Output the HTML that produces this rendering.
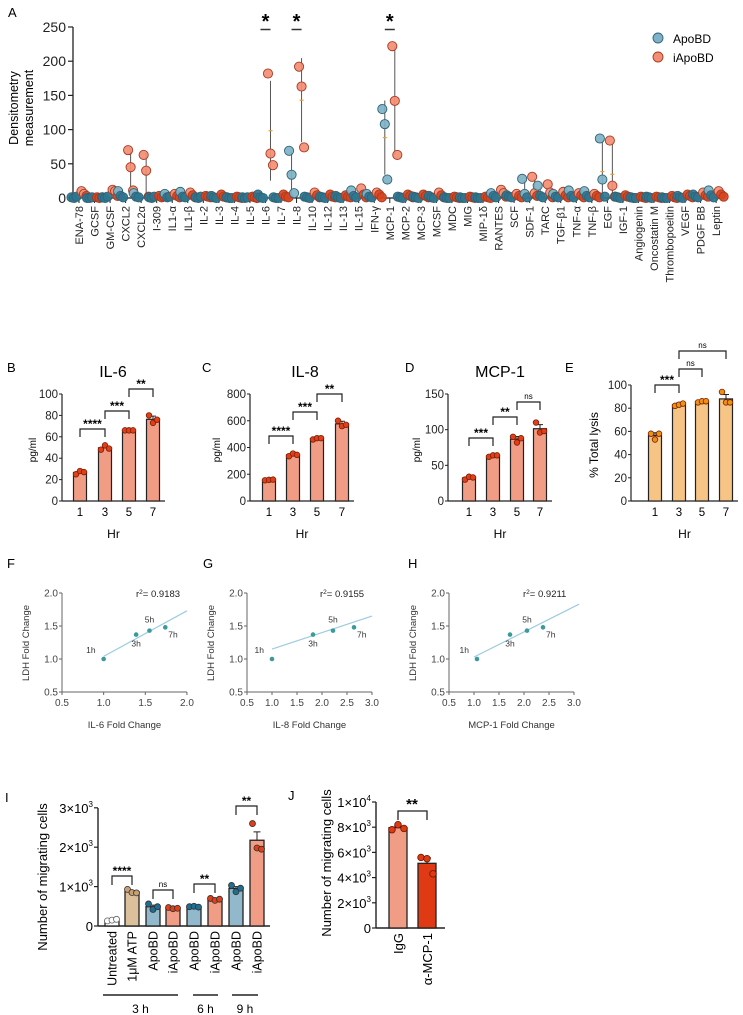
<!DOCTYPE html>
<html><head><meta charset="utf-8"><style>
body{margin:0;background:#fff}
svg{display:block;font-family:"Liberation Sans",sans-serif}
</style></head><body>
<svg id="fig" width="743" height="1015" viewBox="0 0 743 1015"></svg>
<script>
// ---------- Panel A data ----------
const aCats=["ENA-78","GCSF","GM-CSF","CXCL2","CXCL2α","I-309","IL1-α","IL1-β","IL-2","IL-3","IL-4","IL-5","IL-6","IL-7","IL-8","IL-10","IL-12","IL-13","IL-15","IFN-γ","MCP-1","MCP-2","MCP-3","MCSF","MDC","MIG","MIP-1δ","RANTES","SCF","SDF-1","TARC","TGF-β1","TNF-α","TNF-β","EGF","IGF-1","Angiogenin","Oncostatin M","Thrombopoeitin","VEGF","PDGF BB","Leptin"];
const aApo=[[1,0,2],[0,0,1],[1,0,2],[10,3,1],[7,2,1],[1,0,2],[6,1,2],[9,2,1],[1,0,2],[3,1,0],[1,0,0],[1,0,1],[5,1,0],[1,0,0],[69,34,7],[2,1,0],[2,1,0],[3,1,0],[11,3,1],[6,2,1],[130,108,27],[2,1,0],[2,1,0],[3,1,0],[1,0,0],[1,0,0],[1,0,0],[7,3,1],[4,2,1],[28,6,1],[18,3,1],[6,2,1],[11,3,1],[10,3,1],[87,27,2],[2,1,0],[1,0,0],[2,1,0],[1,0,0],[3,1,0],[5,2,1],[11,4,1]];
const aIapo=[[10,6,3],[1,0,1],[12,10,3],[70,45,11],[63,40,2],[3,1,2],[6,3,1],[8,4,1],[3,2,1],[5,2,1],[2,1,0],[2,1,0],[182,65,48],[5,2,1],[192,163,74],[8,4,1],[5,2,1],[4,2,1],[14,5,1],[8,5,1],[222,142,63],[5,3,1],[5,3,1],[8,4,1],[2,1,0],[2,1,0],[2,1,0],[12,7,2],[6,3,1],[31,7,3],[20,8,1],[9,4,1],[7,4,1],[6,3,1],[84,18,2],[4,2,1],[2,1,0],[2,1,0],[3,1,0],[5,3,1],[8,4,2],[10,5,2]];
const aSig=["IL-6","IL-8","MCP-1"];
const aTicks=[0,50,100,150,200,250];
// ---------- Panels B-E ----------
const hrCats=["1","3","5","7"];
const bPts=[[25,28,27],[48,52,49],[66,66,66],[80,73,76]];
const cPts=[[155,158,160],[335,355,345],[460,470,470],[600,560,570]];
const dPts=[[30,34,33],[62,64,64],[90,82,88],[110,96,98]];
const ePts=[[58,53,58],[82,83,84],[85,86,86],[94,85,85]];
const bTicks=[0,20,40,60,80,100];
const cTicks=[0,200,400,600,800];
const dTicks=[0,50,100,150];
const eTicks=[0,20,40,60,80,100];
const bSig=[[0,1,"****"],[1,2,"***"],[2,3,"**"]];
const cSig=[[0,1,"****"],[1,2,"***"],[2,3,"**"]];
const dSig=[[0,1,"***"],[1,2,"**"],[2,3,"ns"]];
const eSig=[[0,1,"***"],[1,2,"ns"],[1,3,"ns"]];
// ---------- Panels F-H ----------
const fcLabels=["1h","3h","5h","7h"];
const ldh=[1.0,1.37,1.43,1.48];
const fIL6=[1.0,1.39,1.55,1.74];
const fIL8=[1.0,1.82,2.22,2.64];
const fMCP=[1.06,1.72,2.06,2.38];
const fR2=["0.9183","0.9155","0.9211"];
const fLineF=[[1.0,1.04],[2.0,1.73]];
const fLineG=[[1.0,1.15],[3.0,1.65]];
const fLineH=[[1.0,1.03],[3.1,1.83]];
// ---------- Panel I ----------
const iCats=["Untreated","1μM ATP","ApoBD","iApoBD","ApoBD","iApoBD","ApoBD","iApoBD"];
const iPts=[[130,150,170],[930,850,840],[560,420,490],[470,440,450],[490,500,480],[700,650,680],[1030,870,960],[2600,1980,1950]];
const iTypes=["w","t","b","r","b","r","b","r"];
const iTicks=[0,1,2,3];
const iSig=[[0,1,"****",876],[2,3,"ns",890],[4,5,"**",884],[6,7,"**",806]];
// ---------- Panel J ----------
const jCats=["IgG","α-MCP-1"];
const jPts=[[7800,8200,7900],[5600,5500,4300]];
const jTicks=[0,2,4,6,8,10];

const svg=document.getElementById('fig');
const NS="http://www.w3.org/2000/svg";
function mk(tag,attrs,parent){const e=document.createElementNS(NS,tag);for(const k in attrs)e.setAttribute(k,attrs[k]);(parent||svg).appendChild(e);return e;}
function txt(x,y,s,attrs,parent){const e=mk('text',Object.assign({x:x,y:y},attrs||{}),parent);e.textContent=s;return e;}
function mean(a){return a.reduce((p,c)=>p+c,0)/a.length;}
function sd(a){const m=mean(a);return Math.sqrt(a.reduce((p,c)=>p+(c-m)*(c-m),0)/(a.length-1));}
function sem(a){return sd(a)/Math.sqrt(a.length);}

// ================= Panel A =================
const gA=mk('g',{});


let t=txt(8,17,"A",{'font-size':13});

const xA=i=>79+i*15.54, yA=v=>198-v*0.684;
let l=mk('line',{x1:73,y1:27,x2:73,y2:198,stroke:'#222','stroke-width':1.3},gA);

l=mk('line',{x1:73,y1:198,x2:722,y2:198,stroke:'#222','stroke-width':1.3},gA);

aTicks.forEach(v=>{
  const k=mk('line',{x1:68,x2:73,y1:yA(v),y2:yA(v),stroke:'#222','stroke-width':1.2},gA);
  
  const s=txt(66,yA(v)+5,String(v),{'font-size':14,'text-anchor':'end',fill:'#222'},gA);
  
});
t=txt(0,0,"Densitometry",{'font-size':12.5,'text-anchor':'middle',transform:'translate(18,108) rotate(-90)'},gA);

t=txt(0,0,"measurement",{'font-size':12.5,'text-anchor':'middle',transform:'translate(33,108) rotate(-90)'},gA);

aCats.forEach((c,i)=>{
  const x=xA(i);
  const k=mk('line',{x1:x,x2:x,y1:198,y2:203,stroke:'#222','stroke-width':1},gA);
  
  const s=txt(0,0,c,{'font-size':11,'text-anchor':'end',fill:'#222',transform:`translate(${x+4},206) rotate(-90)`},gA);
  
  [[aApo[i],-5,'#7fb2c6','#2e6478'],[aIapo[i],5,'#f28e76','#a83a20']].forEach(([pts,off,fill,st])=>{
    const cx=x+off, m=mean(pts), s2=sd(pts);
    if(s2>8){
      const e=mk('line',{x1:cx,x2:cx,y1:yA(m+s2),y2:yA(Math.max(m-s2,0)),stroke:'#555','stroke-width':1},gA);
      
      const mm=mk('line',{x1:cx-2,x2:cx+2,y1:yA(m),y2:yA(m),stroke:'#f0a020','stroke-width':1.2},gA);
      
    }
    pts.forEach((v,j)=>{
      const jit=(j-1)*2.5;
      const dark=v<6;
      const p=mk('circle',{cx:cx+jit,cy:yA(v),r:4.6,fill:dark?(off<0?'#2f7690':'#d8441f'):fill,stroke:st,'stroke-width':0.9,'fill-opacity':0.92},gA);
      
      
    });
  });
  if(aSig.includes(c)){
    const s3=txt(x,28,"*",{'font-size':20,'font-weight':'bold','text-anchor':'middle'},gA);
    
    const d=mk('line',{x1:x-5,x2:x+5,y1:29.5,y2:29.5,stroke:'#333','stroke-width':1.5},gA);
    
  }
});
let lg=mk('circle',{cx:658,cy:38,r:5,fill:'#7fb2c6',stroke:'#2e6478','stroke-width':0.9});

t=txt(673,43,"ApoBD",{'font-size':12});

lg=mk('circle',{cx:658,cy:57,r:5,fill:'#f28e76',stroke:'#a83a20','stroke-width':0.9});

t=txt(673,62,"iApoBD",{'font-size':12});


// ================= Panels B-E =================
function barPanel(o){
  const g=mk('g',{});
  
  
  const y=v=>o.y0-(v/o.max)*(o.y0-o.yTop);
  let a=mk('line',{x1:o.ax,x2:o.ax,y1:o.yTop,y2:o.y0,stroke:'#222','stroke-width':1.2},g);
  
  a=mk('line',{x1:o.ax,x2:o.xs[3]+12,y1:o.y0,y2:o.y0,stroke:'#222','stroke-width':1.2},g);
  
  o.ticks.forEach(v=>{
    const k=mk('line',{x1:o.ax-3,x2:o.ax,y1:y(v),y2:y(v),stroke:'#222'},g);
    
    const s=txt(o.ax-4,y(v)+4,String(v),{'font-size':11.5,'text-anchor':'end',fill:'#222'},g);
    
  });
  o.pts.forEach((pts,i)=>{
    const x=o.xs[i], m=mean(pts), e=sem(pts);
    const b=mk('rect',{x:x-6.5,y:y(m),width:13,height:o.y0-y(m),fill:o.fill,stroke:'#222','stroke-width':1.2},g);
    
    const eb=mk('path',{d:`M${x} ${y(m)} V${y(m+e)-1} M${x-3} ${y(m+e)-1} H${x+3}`,stroke:'#222',fill:'none','stroke-width':1},g);
    
    pts.forEach((v,j)=>{
      const p=mk('circle',{cx:x+(j-1)*4,cy:y(v),r:2.8,fill:o.pfill,stroke:'#7a1e05','stroke-width':0.8},g);
      
    });
    const s=txt(x,516,hrCats[i],{'font-size':11.5,'text-anchor':'middle'},g);
    
  });
  o.sig.forEach((s,k)=>{
    const x1=o.xs[s[0]],x2=o.xs[s[1]],yb=o.sigY[k];
    const br=mk('path',{d:`M${x1} ${yb+8} V${yb} H${x2} V${yb+8}`,stroke:'#222',fill:'none','stroke-width':1.2},g);
    
    const ns=s[2]==='ns';
    const st=txt((x1+x2)/2,yb-(ns?3:1),s[2],{'font-size':ns?8:12,'font-weight':ns?'normal':'bold','text-anchor':'middle'},g);
    
  });
  let yt=txt(0,0,o.ylab,{'font-size':o.ylabSize,'text-anchor':'middle',transform:`translate(${o.ylx},${o.yly}) rotate(-90)`},g);
  
  let xt=txt((o.ax+o.xs[3]+12)/2,538,"Hr",{'font-size':12,'text-anchor':'middle'},g);
  
  let lt=txt(o.lx,372,o.letter,{'font-size':13},g);
  
  if(o.title){let tt=txt(o.tx,377,o.title,{'font-size':16,'text-anchor':'middle'},g);
    }
}
barPanel({name:'panel-b-il6',ax:62,xs:[80,105,129,153],y0:501,yTop:394,max:100,ticks:bTicks,pts:bPts,fill:'#f19d86',pfill:'#e23e18',sig:bSig,sigY:[429,411,389],ylab:'pg/ml',ylabSize:10,ylx:36,yly:450,letter:'B',lx:7,title:'IL-6',tx:113});
barPanel({name:'panel-c-il8',ax:250,xs:[269,293,317,342],y0:501,yTop:394,max:800,ticks:cTicks,pts:cPts,fill:'#f19d86',pfill:'#e23e18',sig:cSig,sigY:[436,412,394],ylab:'pg/ml',ylabSize:10,ylx:220,yly:450,letter:'C',lx:202,title:'IL-8',tx:305});
barPanel({name:'panel-d-mcp1',ax:448,xs:[469,493,517,540],y0:501,yTop:394,max:150,ticks:dTicks,pts:dPts,fill:'#f19d86',pfill:'#e23e18',sig:dSig,sigY:[438,417,402],ylab:'pg/ml',ylabSize:10,ylx:420,yly:450,letter:'D',lx:405,title:'MCP-1',tx:500});
barPanel({name:'panel-e-lysis',ax:631,xs:[655,679,702,726],y0:501,yTop:385,max:100,ticks:eTicks,pts:ePts,fill:'#f6c485',pfill:'#f0900f',sig:eSig,sigY:[385,369,351],ylab:'% Total lysis',ylabSize:12,ylx:598,yly:445,letter:'E',lx:565,title:null});

// ================= Panels F-H =================
function scatter(o){
  const g=mk('g',{});
  
  
  const y=v=>692-(v-0.5)*66, x=v=>o.x0+(v-0.5)*o.sx;
  let a=mk('line',{x1:o.x0,x2:o.x0,y1:593,y2:692,stroke:'#666','stroke-width':1},g);
  
  a=mk('line',{x1:o.x0,x2:x(o.xmax),y1:692,y2:692,stroke:'#666','stroke-width':1},g);
  
  [0.5,1.0,1.5,2.0].forEach(v=>{
    const k=mk('line',{x1:o.x0-3,x2:o.x0,y1:y(v),y2:y(v),stroke:'#666'},g);
    
    const s=txt(o.x0-4,y(v)+3.5,v.toFixed(1),{'font-size':10,'text-anchor':'end',fill:'#444'},g);
    
  });
  for(let v=0.5;v<=o.xmax+1e-6;v+=0.5){
    const k=mk('line',{x1:x(v),x2:x(v),y1:692,y2:695,stroke:'#666'},g);
    
    const s=txt(x(v),706,v.toFixed(1),{'font-size':10,'text-anchor':'middle',fill:'#444'},g);
    
  }
  const ln=mk('line',{x1:x(o.line[0][0]),y1:y(o.line[0][1]),x2:x(o.line[1][0]),y2:y(o.line[1][1]),stroke:'#9ccbe0','stroke-width':1.2},g);
  
  const offs=[[-8,-6,'end'],[0,12,'middle'],[0,-8,'middle'],[3,10,'start']];
  o.xv.forEach((v,i)=>{
    const p=mk('circle',{cx:x(v),cy:y(ldh[i]),r:2.3,fill:'#3a9a9c'},g);
    
    const s=txt(x(v)+offs[i][0],y(ldh[i])+offs[i][1],fcLabels[i],{'font-size':8.5,'text-anchor':offs[i][2],fill:'#333'},g);
    
  });
  let r=txt(o.rx,597,"r",{'font-size':9.5,fill:'#222'},g);
  
  const ts=mk('tspan',{'font-size':6.5,dy:-3},r);ts.textContent="2";
  const ts2=mk('tspan',{dy:3},r);ts2.textContent="= "+o.r2;
  let xt=txt((o.x0+x(o.xmax))/2,728,o.xlab,{'font-size':9.5,'text-anchor':'middle',fill:'#333'},g);
  
  let yt=txt(0,0,"LDH Fold Change",{'font-size':9.5,'text-anchor':'middle',fill:'#333',transform:`translate(${o.x0-33},643) rotate(-90)`},g);
  
  let lt=txt(o.lx,568,o.letter,{'font-size':13},g);
  
}
scatter({name:'panel-f-il6-ldh',x0:62,sx:83.3,xmax:2.0,xv:fIL6,line:fLineF,r2:fR2[0],rx:136,xlab:'IL-6 Fold Change',letter:'F',lx:7});
scatter({name:'panel-g-il8-ldh',x0:247,sx:50,xmax:3.0,xv:fIL8,line:fLineG,r2:fR2[1],rx:320,xlab:'IL-8 Fold Change',letter:'G',lx:203});
scatter({name:'panel-h-mcp1-ldh',x0:449,sx:50,xmax:3.0,xv:fMCP,line:fLineH,r2:fR2[2],rx:523,xlab:'MCP-1 Fold Change',letter:'H',lx:408});

// ================= Panel I =================
const gI=mk('g',{});


const yI=v=>926-v*0.0394;
const iX=[112,132,153,173,194,215,236,257];
const col={w:['#ffffff','#999'],t:['#dcc09c','#c8a070'],b:['#91b8cb','#1f6f93'],r:['#f19d86','#e23e18']};
t=txt(5,802,"I",{'font-size':13});
l=mk('line',{x1:98,x2:98,y1:808,y2:926,stroke:'#222','stroke-width':1.4},gI);

l=mk('line',{x1:98,x2:270,y1:926,y2:926,stroke:'#222','stroke-width':1.4},gI);

iTicks.forEach(v=>{
  const yy=yI(v*1000);
  const k=mk('line',{x1:94,x2:98,y1:yy,y2:yy,stroke:'#222','stroke-width':1.2},gI);
  
  const s=txt(93,yy+5,v===0?"0":v+"×10",{'font-size':13,'text-anchor':'end'},gI);
  
  if(v){const sp=mk('tspan',{'font-size':8,dy:-6},s);sp.textContent="3";}
});
t=txt(0,0,"Number of migrating cells",{'font-size':13,'text-anchor':'middle',transform:'translate(47,877) rotate(-90)'},gI);

iPts.forEach((pts,i)=>{
  const x=iX[i],m=mean(pts),e=sem(pts),c=col[iTypes[i]];
  const b=mk('rect',{x:x-7,y:yI(m),width:14,height:926-yI(m),fill:c[0],stroke:'#222','stroke-width':1.3},gI);
  
  const eb=mk('path',{d:`M${x} ${yI(m)} V${yI(m+e)} M${x-3.5} ${yI(m+e)} H${x+3.5}`,stroke:'#222',fill:'none'},gI);
  
  pts.forEach((v,j)=>{
    const p=mk('circle',{cx:x+(j-1)*4.5,cy:yI(v),r:3,fill:iTypes[i]==='w'?'#fff':c[1],stroke:iTypes[i]==='w'?'#666':'#333','stroke-width':0.8},gI);
    
  });
  const s=txt(0,0,iCats[i],{'font-size':12.5,'text-anchor':'end',transform:`translate(${x+4.5},931) rotate(-90)`},gI);
  
});
iSig.forEach(s=>{
  const x1=iX[s[0]],x2=iX[s[1]],yb=s[3];
  const br=mk('path',{d:`M${x1} ${yb+9} V${yb} H${x2} V${yb+9}`,stroke:'#222',fill:'none','stroke-width':1.2},gI);
  
  const ns=s[2]==='ns';
  const st=txt((x1+x2)/2,yb-(ns?3:1),s[2],{'font-size':ns?8:12,'font-weight':ns?'normal':'bold','text-anchor':'middle'},gI);
  
});
[[103,178,"3 h"],[193,218,"6 h"],[232,258,"9 h"]].forEach(gp=>{
  const g1=mk('line',{x1:gp[0],x2:gp[1],y1:995,y2:995,stroke:'#222','stroke-width':1.5},gI);
  
  const g2=txt((gp[0]+gp[1])/2,1013,gp[2],{'font-size':12,'text-anchor':'middle'},gI);
  
});

// ================= Panel J =================
const gJ=mk('g',{});


const yJ=v=>928-v*0.0126;
const jX=[398,427],jFill=['#f19d86','#e03a14'];
t=txt(288,800,"J",{'font-size':13});
l=mk('line',{x1:376,x2:376,y1:802,y2:928,stroke:'#222','stroke-width':1.4},gJ);

l=mk('line',{x1:376,x2:445,y1:928,y2:928,stroke:'#222','stroke-width':1.4},gJ);

jTicks.forEach(v=>{
  const yy=yJ(v*1000);
  const k=mk('line',{x1:372,x2:376,y1:yy,y2:yy,stroke:'#222','stroke-width':1.2},gJ);
  
  const s=txt(371,yy+5,v===0?"0":(v===10?"1×10":v+"×10"),{'font-size':13,'text-anchor':'end'},gJ);
  
  if(v){const sp=mk('tspan',{'font-size':8,dy:-6},s);sp.textContent=v===10?"4":"3";}
});
t=txt(0,0,"Number of migrating cells",{'font-size':13,'text-anchor':'middle',transform:'translate(331,863) rotate(-90)'},gJ);

jPts.forEach((pts,i)=>{
  const x=jX[i],m=mean(pts),e=sem(pts);
  const b=mk('rect',{x:x-9,y:yJ(m),width:18,height:928-yJ(m),fill:jFill[i],stroke:'#222','stroke-width':1.3},gJ);
  
  const eb=mk('path',{d:`M${x} ${yJ(m)} V${yJ(m+e)} M${x-4} ${yJ(m+e)} H${x+4}`,stroke:'#222',fill:'none'},gJ);
  
  pts.forEach((v,j)=>{
    const p=mk('circle',{cx:x+(j-1)*6,cy:yJ(v),r:3.3,fill:'#e03a14',stroke:'#6a1500','stroke-width':0.8},gJ);
    
  });
  const s=txt(0,0,jCats[i],{'font-size':13,'text-anchor':'end',transform:`translate(${x+5},933) rotate(-90)`},gJ);
  
});
l=mk('path',{d:'M398 820 V811 H427 V820',stroke:'#222',fill:'none','stroke-width':1.3},gJ);

t=txt(412,809,"**",{'font-size':15,'font-weight':'bold','text-anchor':'middle'},gJ);

</script>
</body></html>
